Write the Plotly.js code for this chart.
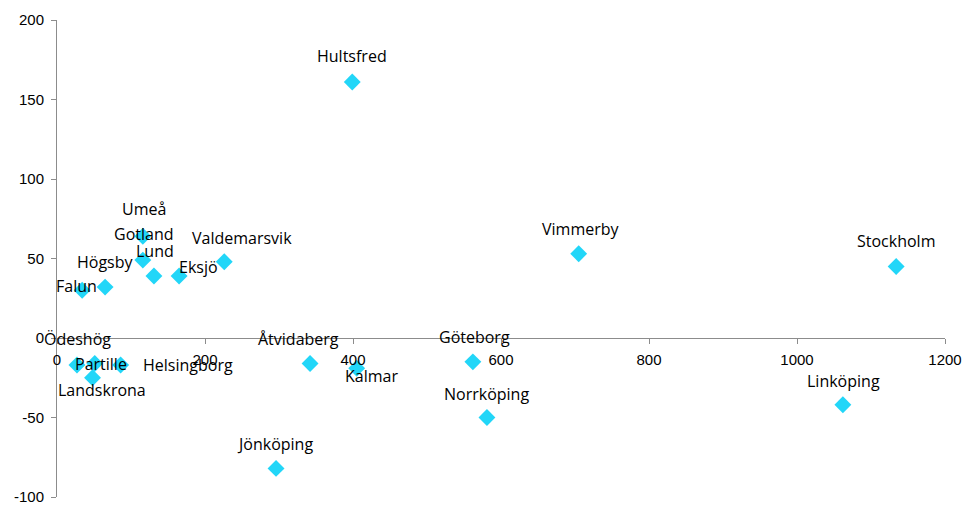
<!DOCTYPE html>
<html>
<head>
<meta charset="utf-8">
<script src="https://cdn.plot.ly/plotly-3.0.1.min.js"></script>
<style>html,body{margin:0;padding:0;background:#fff}#chart{width:963px;height:506px}</style>
</head>
<body>
<div id="chart"></div>
<script>
// Data
const names = ["Hultsfred","Umeå","Gotland","Lund","Högsby","Falun","Eksjö","Valdemarsvik","Ödeshög","Partille","Helsingborg","Landskrona","Åtvidaberg","Kalmar","Göteborg","Norrköping","Jönköping","Linköping","Vimmerby","Stockholm"];
const xVals = [399, 116, 116, 131, 65, 34, 165, 226, 27, 51, 86, 48, 342, 405, 562, 581, 296, 1062, 705, 1134];
const yVals = [161, 64, 49, 39, 32, 30, 39, 48, -17, -16, -17, -25, -16, -19, -15, -50, -82, -42, 53, 45];
const xTicks = [0, 200, 400, 600, 800, 1000, 1200];
const yTicks = [-100, -50, 0, 50, 100, 150, 200];

// Label offsets in pixels (style only)
const labelDx = [0, 1, 1, 1, 0, -6, 19, 18, 1, 6, 67, 9, -12, 15, 2, 0, -1, 1, 2, 0];
const labelDy = [26, 27, 26, 25, 25, 4, 9, 24, 26, -1, 0, -12, 24, -8, 25, 24, 24, 24, 25, 25];

const trace = {
  type: 'scatter',
  mode: 'markers',
  x: xVals,
  y: yVals,
  marker: {symbol: 'diamond', size: 13, color: '#22d6f8', line: {width: 0}},
  hoverinfo: 'text',
  text: names
};

const annotations = names.map((n, i) => ({
  x: xVals[i], y: yVals[i], xref: 'x', yref: 'y',
  text: n, showarrow: false,
  xshift: labelDx[i], yshift: labelDy[i],
  font: {family: 'Open Sans, sans-serif', size: 16, color: '#000'}
}));

const tickFont = {family: 'Liberation Sans, Arial, sans-serif', size: 15, color: '#000'};

const layout = {
  width: 963, height: 506,
  margin: {l: 57, r: 18, t: 20, b: 9},
  paper_bgcolor: '#fff', plot_bgcolor: '#fff',
  showlegend: false,
  font: tickFont,
  xaxis: {
    range: [0, 1200], tickvals: xTicks, ticktext: xTicks.map(String),
    tickfont: tickFont,
    showgrid: false, zeroline: false,
    showline: true, linecolor: '#8c8c8c', linewidth: 1,
    ticks: 'outside', ticklen: 5, tickcolor: '#8c8c8c',
    anchor: 'free', position: 1/3,
    ticklabelstandoff: 3
  },
  yaxis: {
    range: [-100, 200], tickvals: yTicks, ticktext: yTicks.map(String),
    tickfont: tickFont,
    showgrid: false, zeroline: false,
    showline: true, linecolor: '#8c8c8c', linewidth: 1,
    ticks: 'outside', ticklen: 5, tickcolor: '#8c8c8c',
    ticklabelstandoff: 4
  },
  annotations: annotations
};

Plotly.newPlot('chart', [trace], layout, {displayModeBar: false, staticPlot: true});
</script>
</body>
</html>
